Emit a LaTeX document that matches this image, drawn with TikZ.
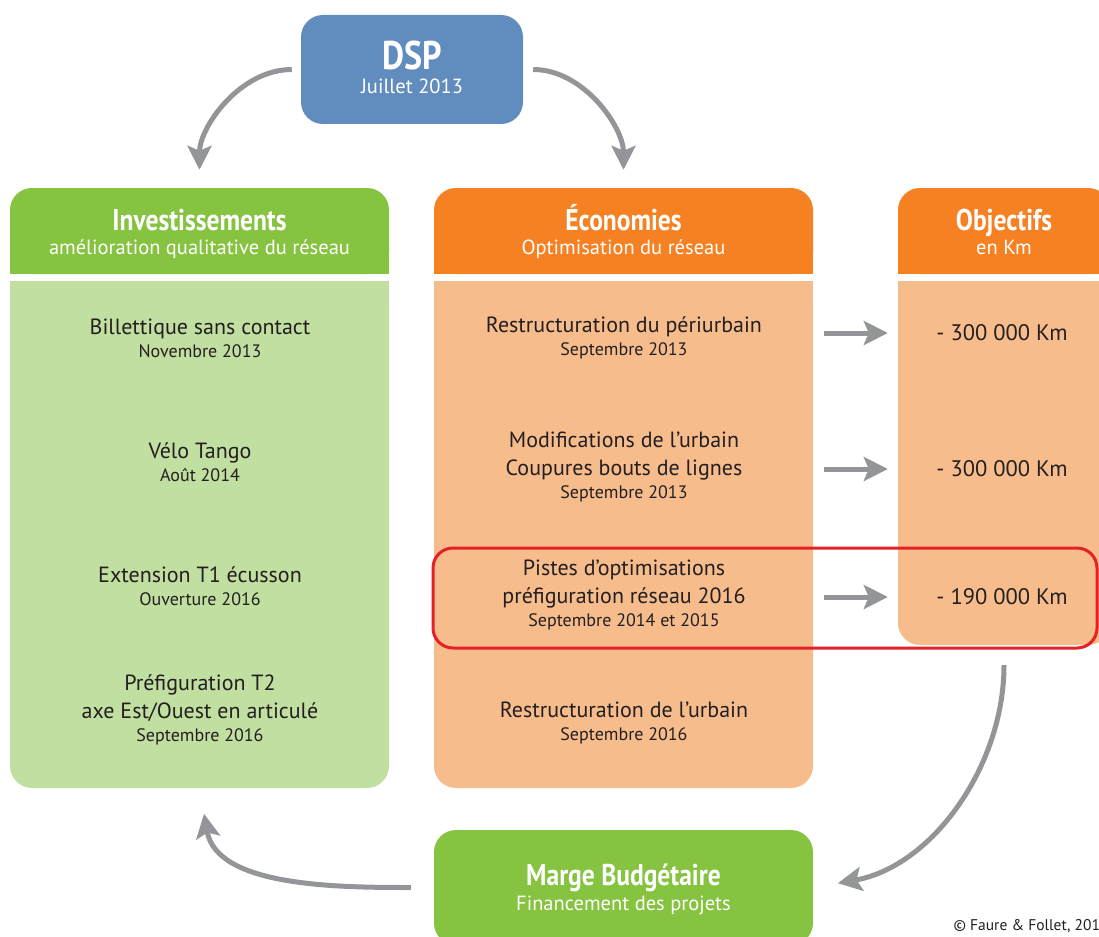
\documentclass[tikz,border=0pt]{standalone}
\usepackage{fontspec}
\setmainfont{PT Sans}
\newfontfamily\headfont{PT Sans}[FakeStretch=0.85]
\usepackage{tikz}
\usetikzlibrary{arrows.meta,positioning}

\definecolor{dspblue}{RGB}{96,140,190}
\definecolor{invgreen}{RGB}{134,195,65}
\definecolor{invlight}{RGB}{193,223,160}
\definecolor{ecoorange}{RGB}{245,129,34}
\definecolor{ecolight}{RGB}{247,188,140}
\definecolor{arrowgray}{RGB}{147,149,152}
\definecolor{focusred}{RGB}{228,33,39}
\definecolor{inktext}{RGB}{35,31,32}

\newcommand\datefont{\fontsize{18}{24}\selectfont}

\begin{document}
\begin{tikzpicture}[x=1pt,y=-1pt,
  box/.style={minimum width=379pt, minimum height=86pt, rounded corners=22pt, inner sep=0pt},
  headtitle/.style={text=white, font=\headfont\bfseries\fontsize{30}{32}\selectfont, anchor=base},
  headsub/.style={text=white, font=\fontsize{20.5}{22}\selectfont, anchor=base},
  entry/.style={align=center, text=inktext, font=\fontsize{22}{28}\selectfont},
  km/.style={text=inktext, font=\fontsize{22.5}{24}\selectfont},
  flow/.style={arrowgray, line width=5pt, -{Stealth[length=24pt,width=24pt,inset=5pt]}}]

\useasboundingbox (0,0) rectangle (1099,936);

% boxes
\node[box, fill=dspblue, minimum width=222pt, minimum height=109pt] (dsp) at (412,69.5) {};

\node[box, fill=invgreen] (invhead) at (199.5,231) {};
\node[box, fill=invlight, minimum height=507pt] (invbody) at (199.5,534.5) {};
\fill[invgreen] (invhead.west) rectangle (invhead.south east);
\fill[invlight] (invbody.north west) rectangle (invbody.east);

\node[box, fill=ecoorange] (ecohead) at (623.5,231) {};
\node[box, fill=ecolight, minimum height=507pt] (ecobody) at (623.5,534.5) {};
\fill[ecoorange] (ecohead.west) rectangle (ecohead.south east);
\fill[ecolight] (ecobody.north west) rectangle (ecobody.east);

\node[box, fill=ecoorange, minimum width=212pt] (objhead) at (1004,231) {};
\node[box, fill=ecolight, minimum width=212pt, minimum height=364pt] (objbody) at (1004,463) {};
\fill[ecoorange] (objhead.west) rectangle (objhead.south east);
\fill[ecolight] (objbody.north west) rectangle (objbody.east);

\node[box, fill=invgreen, minimum height=115pt] (marge) at (623.5,887.5) {};

% titles
\node[headtitle, font=\headfont\bfseries\fontsize{40}{42}\selectfont] (dsptitle) at (412,70) {DSP};
\node[headsub] (dspsub) at (412,94) {Juillet 2013};

\node[headtitle] (invtitle) at (199.5,230) {Investissements};
\node[headsub] (invsub) at (199.5,254) {amélioration qualitative du réseau};

\node[headtitle] (ecotitle) at (623.5,230) {Économies};
\node[headsub] (ecosub) at (623.5,254) {Optimisation du réseau};

\node[headtitle] (objtitle) at (1004,230) {Objectifs};
\node[headsub] (objsub) at (1004,254) {en Km};

\node[headtitle] (margetitle) at (623.5,885) {Marge Budgétaire};
\node[headsub] (margesub) at (623.5,910) {Financement des projets};

% investissements
\node[entry] (i1) at (200,338) {Billettique sans contact\\[-5pt]\datefont Novembre 2013};
\node[entry] (i2) at (200,462) {Vélo Tango\\[-5pt]\datefont Août 2014};
\node[entry] (i3) at (200,586) {Extension T1 écusson\\[-5pt]\datefont Ouverture 2016};
\node[entry] (i4) at (200,710) {Préfiguration T2\\axe Est/Ouest en articulé\\[-5pt]\datefont Septembre 2016};

% economies
\node[entry] (e1) at (624,338) {Restructuration du périurbain\\[-5pt]\datefont Septembre 2013};
\node[entry] (e2) at (624,467) {Modifications de l’urbain\\Coupures bouts de lignes\\[-5pt]\datefont Septembre 2013};
\node[entry] (e3) at (624,595) {Pistes d’optimisations\\préfiguration réseau 2016\\[-5pt]\datefont Septembre 2014 et 2015};
\node[entry] (e4) at (624,723) {Restructuration de l’urbain\\[-5pt]\datefont Septembre 2016};

% objectifs
\node[km] (k1) at (1002,333) {- 300 000 Km};
\node[km] (k2) at (1002,469) {- 300 000 Km};
\node[km] (k3) at (1002,597) {- 190 000 Km};

\node[draw=focusred, line width=3pt, rounded corners=20pt, minimum width=664pt, minimum height=100pt] (focus) at (765,598) {};

% arrows
\draw[flow, shorten <=11pt, shorten >=10pt] (ecobody.east |- k1) -- (objbody.west |- k1);
\draw[flow, shorten <=11pt, shorten >=10pt] (ecobody.east |- k2) -- (objbody.west |- k2);
\draw[flow, shorten <=11pt, shorten >=10pt] (ecobody.east |- k3) -- (objbody.west |- k3);

\draw[flow, shorten <=9pt, shorten >=18pt] (dsp.west) to[out=180,in=90] (invhead.north);
\draw[flow, shorten <=10pt, shorten >=18pt] (dsp.east) to[out=0,in=90] (ecohead.north);
\draw[flow, shorten <=20pt, shorten >=25pt] (objbody.south) to[out=-90,in=10] (marge.east);
\draw[flow, shorten <=23pt, shorten >=26pt] (marge.west) to[out=180,in=-80] (invbody.south);

\node[anchor=base west, text=inktext, font=\fontsize{15.5}{18}\selectfont] (credit) at (950,930) {© Faure \& Follet, 201};

\end{tikzpicture}
\end{document}
